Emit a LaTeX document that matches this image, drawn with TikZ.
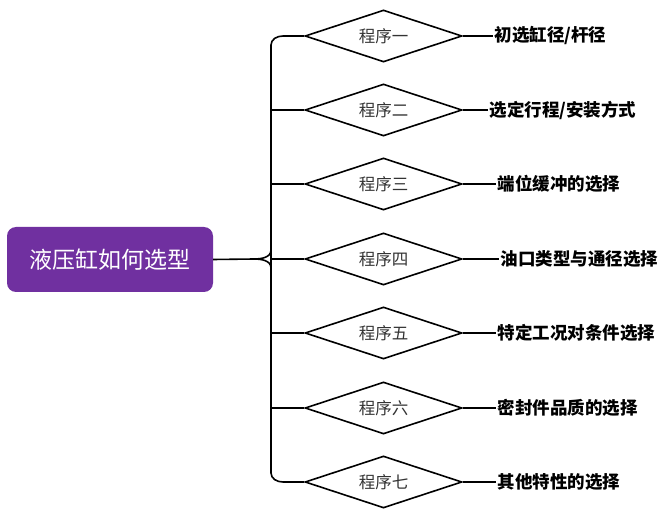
\documentclass[tikz,border=0pt]{standalone}
\usepackage{fontspec}
\setmainfont{Noto Sans CJK SC}
\usetikzlibrary{shapes.geometric}
\definecolor{rootpurple}{HTML}{7030A0}
\definecolor{steptext}{HTML}{333333}
\begin{document}
\begin{tikzpicture}[x=1pt,y=-1pt,
  rootbox/.style={draw=none,fill=rootpurple,rounded corners=9pt,minimum width=206pt,minimum height=65pt,text=white,font=\fontsize{23}{26}\selectfont,inner sep=0pt},
  stepdia/.style={diamond,draw,line width=1.6pt,minimum width=157pt,minimum height=52pt,inner sep=0pt,aspect=3,font=\fontsize{16.5}{18}\selectfont,text=steptext},
  steplabel/.style={anchor=west,inner sep=1.5pt,font=\bfseries\fontsize{17.5}{20}\selectfont},
  conn/.style={line width=1.6pt}]
\useasboundingbox (0,0) rectangle (665,513);
\node[rootbox] (root) at (110,259.5) {液压缸如何选型};
\foreach \i/\y/\t in {1/36/一,2/110/二,3/184/三,4/259/四,5/333/五,6/408/六,7/482/七}{
  \node[stepdia] (d\i) at (383.5,\y) {程序\t};
}
\node[steplabel] (l1) at (493,36) {初选缸径/杆径};
\node[steplabel] (l2) at (488,110) {选定行程/安装方式};
\node[steplabel] (l3) at (496,184) {端位缓冲的选择};
\node[steplabel] (l4) at (499,259) {油口类型与通径选择};
\node[steplabel] (l5) at (496,333) {特定工况对条件选择};
\node[steplabel] (l6) at (496,408) {密封件品质的选择};
\node[steplabel] (l7) at (496,482) {其他特性的选择};
\foreach \i in {1,...,7}{\draw[conn] (d\i.east) -- (l\i.west);}
\coordinate (bt) at (271,45);
\coordinate (bb) at (271,473);
\coordinate (bm) at (271,259);
\coordinate (jn) at (254,259);
\draw[conn] (d1.west) -- (283,36) to[out=180,in=90] (bt) -- (bb) to[out=-90,in=180] (283,482) -- (d7.west);
\draw[conn] (root.east) -- (jn) to[out=0,in=-90] (271,250);
\draw[conn] (jn) to[out=0,in=90] (271,268);
\foreach \i/\y in {2/110,3/184,4/259,5/333,6/408}{\draw[conn] (271,\y) -- (d\i.west);}
\end{tikzpicture}
\end{document}
